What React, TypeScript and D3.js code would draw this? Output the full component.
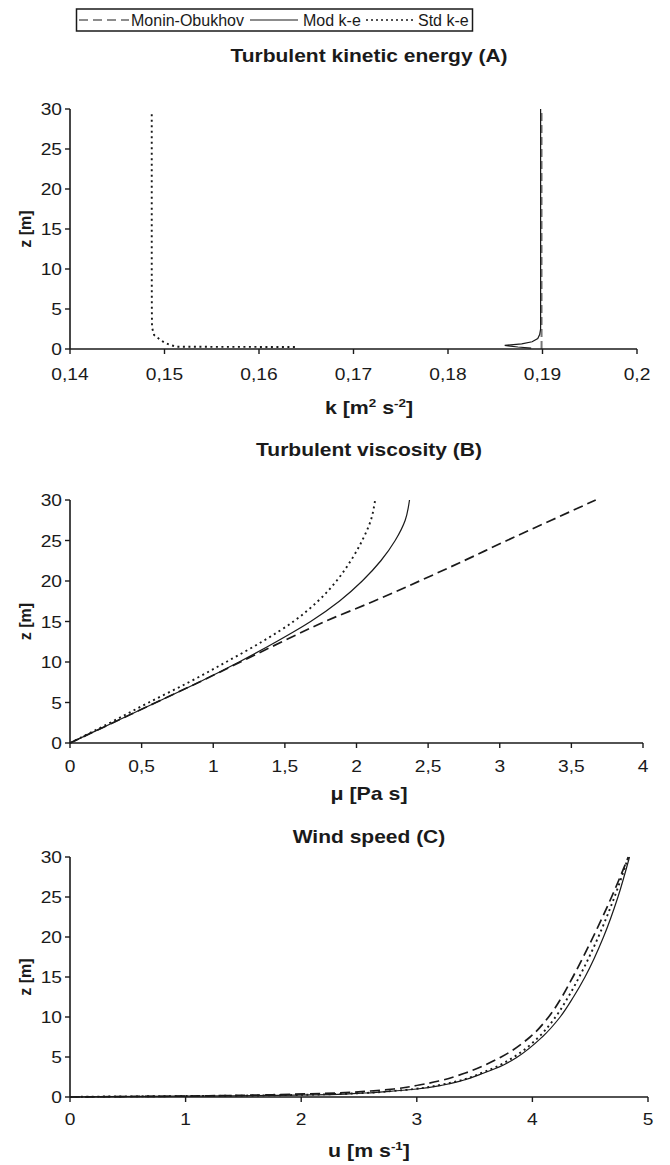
import React from 'react';
import * as d3 from 'd3';

// ---------- legend ----------
const legendLabels = ['Monin-Obukhov', 'Mod k-e', 'Std k-e'];

// ---------- Panel A : turbulent kinetic energy ----------
const titleA = 'Turbulent kinetic energy (A)';
const xTicksA = [0.14, 0.15, 0.16, 0.17, 0.18, 0.19, 0.2];
const zA_mo = [0, 30];
const kA_mo = [0.1899, 0.1899];
const zA_mod = [0.1, 0.25, 0.45, 0.65, 0.9, 1.3, 1.8, 2.5, 5, 30];
const kA_mod = [0.1888, 0.1874, 0.186, 0.1878, 0.1889, 0.1895, 0.1897, 0.1898, 0.1898, 0.1898];
const zA_std = [0.25, 0.28, 0.5, 0.8, 1.1, 1.75, 2.7, 5, 10, 20, 29.5];
const kA_std = [0.1638, 0.1513, 0.1506, 0.15, 0.1496, 0.1489, 0.14868, 0.14866, 0.14865, 0.14865, 0.14865];

// ---------- Panel B : turbulent viscosity ----------
const titleB = 'Turbulent viscosity (B)';
const xTicksB = [0, 0.5, 1, 1.5, 2, 2.5, 3, 3.5, 4];
const zB = [0, 2.5, 5, 7.5, 10, 12.5, 15, 17.5, 20, 22.5, 25, 27.5, 30];
const muB_mo = [0, 0.3, 0.6, 0.9, 1.19, 1.48, 1.78, 2.12, 2.44, 2.75, 3.05, 3.36, 3.67];
const muB_mod = [0, 0.3, 0.6, 0.9, 1.18, 1.44, 1.68, 1.88, 2.04, 2.17, 2.27, 2.34, 2.37];
const muB_std = [0, 0.28, 0.55, 0.83, 1.09, 1.34, 1.56, 1.73, 1.86, 1.96, 2.04, 2.1, 2.13];

// ---------- Panel C : wind speed ----------
const titleC = 'Wind speed (C)';
const xTicksC = [0, 1, 2, 3, 4, 5];
const zC = [0, 0.05, 0.1, 0.15, 0.2, 0.3, 0.5, 0.75, 1, 1.5, 2, 3, 4, 5, 7.5, 10, 12.5, 15, 20, 25, 30];
const uC_mo = [0, 0.4, 0.9, 1.2, 1.45, 1.8, 2.3, 2.6, 2.8, 3.02, 3.19, 3.42, 3.59, 3.73, 3.98, 4.14, 4.255, 4.35, 4.525, 4.685, 4.83];
const uC_mod = [0, 0.3, 0.9, 1.4, 1.8, 2.25, 2.55, 2.8, 3.0, 3.23, 3.38, 3.58, 3.75, 3.87, 4.085, 4.24, 4.355, 4.455, 4.615, 4.74, 4.84];
const uC_std = [0, 0.25, 0.8, 1.3, 1.7, 2.1, 2.55, 2.79, 2.98, 3.2, 3.36, 3.56, 3.72, 3.84, 4.055, 4.2, 4.31, 4.405, 4.57, 4.71, 4.83];

const zTicks = [0, 5, 10, 15, 20, 25, 30];

const FONT = "'Liberation Sans', Arial, Helvetica, sans-serif";
const INK = '#1a1a1a';

const fmt = (v: number) => String(+v.toFixed(2)).replace('.', ',');

const STYLE = {
  mo: { dash: '10,5', width: 1.7, color: INK },
  mod: { dash: '', width: 1.2, color: INK },
  std: { dash: '2,3.5', width: 1.9, color: INK },
};

type TProps = {
  x: number; y: number; size: number; bold?: boolean; anchor?: string; sx?: number; children: any; rotate?: boolean;
};
const T = ({ x, y, size, bold, anchor = 'middle', sx = 1.2, children, rotate }: TProps) => (
  <text
    transform={rotate ? `translate(${x},${y}) rotate(-90)` : `translate(${x},${y}) scale(${sx},1)`}
    fontSize={size}
    fontWeight={bold ? 'bold' : 'normal'}
    textAnchor={anchor}
    fontFamily={FONT}
    fill={INK}
  >
    {children}
  </text>
);

type PanelProps = {
  x0: number; x1: number; y0: number; y1: number;
  domain: [number, number]; ticks: number[];
  series: { xs: number[]; zs: number[]; style: any; curve: any }[];
  title: string; titleY: number; tickLabelY: number; xLabel: any; xLabelY: number;
};

const Panel = ({ x0, x1, y0, y1, domain, ticks, series, title, titleY, tickLabelY, xLabel, xLabelY }: PanelProps) => {
  const xs = d3.scaleLinear().domain(domain).range([x0, x1]);
  const ys = d3.scaleLinear().domain([0, 30]).range([y0, y1]);
  const cx = 369;
  return (
    <g>
      <T x={cx} y={titleY} size={17.5} bold>{title}</T>
      {series.map((s, i) => {
        const pts = s.zs.map((z, j) => [s.xs[j], z] as [number, number]);
        const line = d3.line<[number, number]>().x(d => xs(d[0])).y(d => ys(d[1])).curve(s.curve);
        return (
          <path key={i} d={line(pts) || ''} fill="none" stroke={s.style.color}
            strokeWidth={s.style.width} strokeDasharray={s.style.dash || undefined} strokeLinecap="butt" />
        );
      })}
      {/* axes */}
      <line x1={x0} x2={x1} y1={y0} y2={y0} stroke={INK} strokeWidth={1.6} />
      <line x1={x0} x2={x0} y1={y0} y2={y1} stroke={INK} strokeWidth={1.6} />
      {ticks.map(t => (
        <g key={'x' + t}>
          <line x1={xs(t)} x2={xs(t)} y1={y0} y2={y0 + 5} stroke={INK} strokeWidth={1.4} />
          <T x={xs(t)} y={tickLabelY} size={16}>{fmt(t)}</T>
        </g>
      ))}
      {zTicks.map(t => (
        <g key={'y' + t}>
          <line x1={x0 - 5} x2={x0} y1={ys(t)} y2={ys(t)} stroke={INK} strokeWidth={1.4} />
          <T x={x0 - 8} y={ys(t) + 6} size={16} anchor="end">{fmt(t)}</T>
        </g>
      ))}
      <T x={31} y={(y0 + y1) / 2} size={16} bold rotate>z [m]</T>
      <T x={cx} y={xLabelY} size={17.5} bold sx={1.22}>{xLabel}</T>
    </g>
  );
};

export default function App() {
  const legendY = 20;
  return (
    <svg width={670} height={1165} style={{ position: 'absolute', left: 0, top: 0, background: '#fff' }}>
      <rect x={0} y={0} width={670} height={1165} fill="#fff" />
      {/* legend */}
      <rect x={76.5} y={9} width={396} height={22} fill="none" stroke={INK} strokeWidth={1.5} />
      <line x1={79} x2={129} y1={legendY} y2={legendY} stroke={INK} strokeWidth={1.2} strokeDasharray="9,5" />
      <text x={131} y={26} fontSize={16} fontFamily={FONT} fill={INK}>{legendLabels[0]}</text>
      <line x1={250} x2={298} y1={legendY} y2={legendY} stroke={INK} strokeWidth={1.2} />
      <text x={303} y={26} fontSize={16} fontFamily={FONT} fill={INK}>{legendLabels[1]}</text>
      <line x1={366} x2={414} y1={legendY} y2={legendY} stroke={INK} strokeWidth={1.4} strokeDasharray="2,3" />
      <text x={418} y={26} fontSize={16} fontFamily={FONT} fill={INK}>{legendLabels[2]}</text>

      <Panel
        x0={70} x1={637} y0={349} y1={109} domain={[0.14, 0.2]} ticks={xTicksA}
        series={[
          { xs: kA_std, zs: zA_std, style: STYLE.std, curve: d3.curveLinear },
          { xs: kA_mo, zs: zA_mo, style: { dash: '8,4', width: 2, color: '#777' }, curve: d3.curveLinear },
          { xs: kA_mod, zs: zA_mod, style: STYLE.mod, curve: d3.curveLinear },
        ]}
        title={titleA} titleY={62} tickLabelY={380}
        xLabel={<>k [m<tspan fontSize={11} dy={-7}>2</tspan><tspan dy={7}> s</tspan><tspan fontSize={11} dy={-7}>-2</tspan><tspan dy={7}>]</tspan></>}
        xLabelY={414}
      />
      <Panel
        x0={70} x1={643} y0={743} y1={500} domain={[0, 4]} ticks={xTicksB}
        series={[
          { xs: muB_std, zs: zB, style: STYLE.std, curve: d3.curveMonotoneY },
          { xs: muB_mo, zs: zB, style: STYLE.mo, curve: d3.curveMonotoneY },
          { xs: muB_mod, zs: zB, style: STYLE.mod, curve: d3.curveMonotoneY },
        ]}
        title={titleB} titleY={456} tickLabelY={772}
        xLabel={<>μ [Pa s]</>}
        xLabelY={800}
      />
      <Panel
        x0={70} x1={648} y0={1097} y1={857} domain={[0, 5]} ticks={xTicksC}
        series={[
          { xs: uC_std, zs: zC, style: STYLE.std, curve: d3.curveMonotoneY },
          { xs: uC_mo, zs: zC, style: STYLE.mo, curve: d3.curveMonotoneY },
          { xs: uC_mod, zs: zC, style: STYLE.mod, curve: d3.curveMonotoneY },
        ]}
        title={titleC} titleY={843} tickLabelY={1125}
        xLabel={<>u [m s<tspan fontSize={11} dy={-7}>-1</tspan><tspan dy={7}>]</tspan></>}
        xLabelY={1157}
      />
    </svg>
  );
}
